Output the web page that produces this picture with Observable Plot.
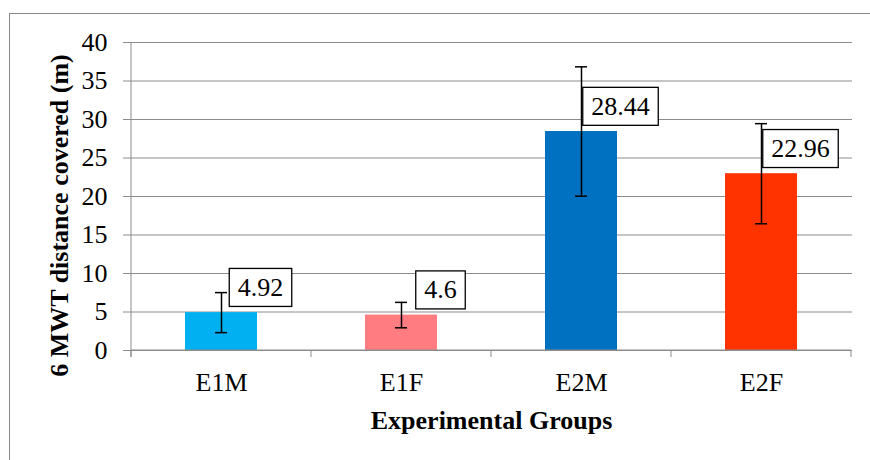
<!DOCTYPE html>
<html><head><meta charset="utf-8">
<script src="https://cdn.jsdelivr.net/npm/d3@7"></script>
<script src="https://cdn.jsdelivr.net/npm/@observablehq/plot@0.6"></script>
<style>
body{margin:0;background:#fff;}
#wrap{position:relative;width:870px;height:460px;overflow:hidden;background:#fff;}
#border{position:absolute;left:9px;top:13px;width:900px;height:500px;border-left:1px solid #888;border-top:1px solid #888;}
#wrap svg{position:absolute;left:0;top:0;}
#wrap svg, #wrap svg text{font-family:"Liberation Serif","Times New Roman",serif !important;}
</style></head><body><div id="wrap"><div id="border"></div></div>
<script>
const groups = ["E1M", "E1F", "E2M", "E2F"];
const means = [4.92, 4.6, 28.44, 22.96];
const errors = [2.6, 1.65, 8.4, 6.5];
const colors = ["#00B0F0", "#FF7C80", "#0070C0", "#FF3300"];
const yTicks = [0, 5, 10, 15, 20, 25, 30, 35, 40];
const yTitle = "6 MWT distance covered (m)";
const xTitle = "Experimental Groups";

const data = groups.map((g, i) => ({
  group: g, mean: means[i], lo: means[i] - errors[i], hi: means[i] + errors[i], label: String(means[i])
}));

const font = "Liberation Serif";
const gray = "#8c8c8c";

const plot = Plot.plot({
  width: 870, height: 460,
  marginLeft: 130, marginRight: 18, marginTop: 42, marginBottom: 110,
  style: {fontFamily: font, fontSize: "26px", color: "#000", background: "transparent"},
  x: {domain: groups, paddingInner: 0.6, paddingOuter: 0.3},
  y: {domain: [0, 40]},
  color: {domain: groups, range: colors},
  marks: [
    Plot.gridY(yTicks, {stroke: gray, strokeOpacity: 1, strokeWidth: 1}),
    Plot.axisY(yTicks, {tickSize: 7, tickPadding: 16, stroke: gray, fill: "#000", fontSize: 26, fontFamily: font, label: null}),
    Plot.axisX({tickSize: 0, tickPadding: 22, fill: "#000", fontSize: 26, fontFamily: font, label: null}),
    Plot.barY(data, {x: "group", y: "mean", fill: "group"}),
    Plot.ruleX(data, {x: "group", y1: "lo", y2: "hi", stroke: "#000", strokeWidth: 1.5}),
    Plot.tickY(data, {x: "group", y: "lo", insetLeft: 30, insetRight: 30, stroke: "#000", strokeWidth: 1.5}),
    Plot.tickY(data, {x: "group", y: "hi", insetLeft: 30, insetRight: 30, stroke: "#000", strokeWidth: 1.5}),
    Plot.text(data, {x: "group", y: "mean", text: "label", dx: 39, dy: -25, fontSize: 26, fontFamily: font, fill: "#000", ariaDescription: "value-labels"}),
    Plot.text([yTitle], {text: d => d, frameAnchor: "left", textAnchor: "middle", lineAnchor: "middle", rotate: -90, dx: -71, dy: 19, fontWeight: "bold", fontSize: 26, fontFamily: font, fill: "#000"}),
    Plot.text([xTitle], {text: d => d, frameAnchor: "bottom", textAnchor: "middle", lineAnchor: "middle", dy: 70, fontWeight: "bold", fontSize: 26, fontFamily: font, fill: "#000"})
  ]
});

document.getElementById("wrap").appendChild(plot);

// axis lines and category boundary ticks via the plot's own scales
const xs = plot.scale("x");
const ys = plot.scale("y");
const svg = d3.select(plot);
const outer = (xs.step - xs.bandwidth) / 2;
const bounds = groups.map(g => xs.apply(g) - outer);
bounds.push(bounds[bounds.length - 1] + xs.step);
const y0 = ys.apply(0), yTop = ys.apply(40);
const axisG = svg.append("g").attr("stroke", gray).attr("stroke-width", 1);
axisG.append("line").attr("x1", bounds[0]).attr("x2", bounds[0]).attr("y1", yTop).attr("y2", y0 + 7);
axisG.append("line").attr("x1", bounds[0]).attr("x2", bounds[bounds.length - 1]).attr("y1", y0).attr("y2", y0);
bounds.forEach(b => axisG.append("line").attr("x1", b).attr("x2", b).attr("y1", y0).attr("y2", y0 + 7));

// boxed data labels
svg.selectAll("g[aria-description='value-labels'] text").each(function() {
  const bb = this.getBBox();
  const r = document.createElementNS("http://www.w3.org/2000/svg", "rect");
  r.setAttribute("x", bb.x - 8.5);
  r.setAttribute("y", bb.y - 4.5);
  r.setAttribute("width", bb.width + 17);
  r.setAttribute("height", bb.height + 9);
  r.setAttribute("fill", "#fff");
  r.setAttribute("stroke", "#000");
  r.setAttribute("stroke-width", 1.3);
  const t = this.getAttribute("transform");
  if (t) r.setAttribute("transform", t);
  this.parentNode.insertBefore(r, this);
});
</script></body></html>
